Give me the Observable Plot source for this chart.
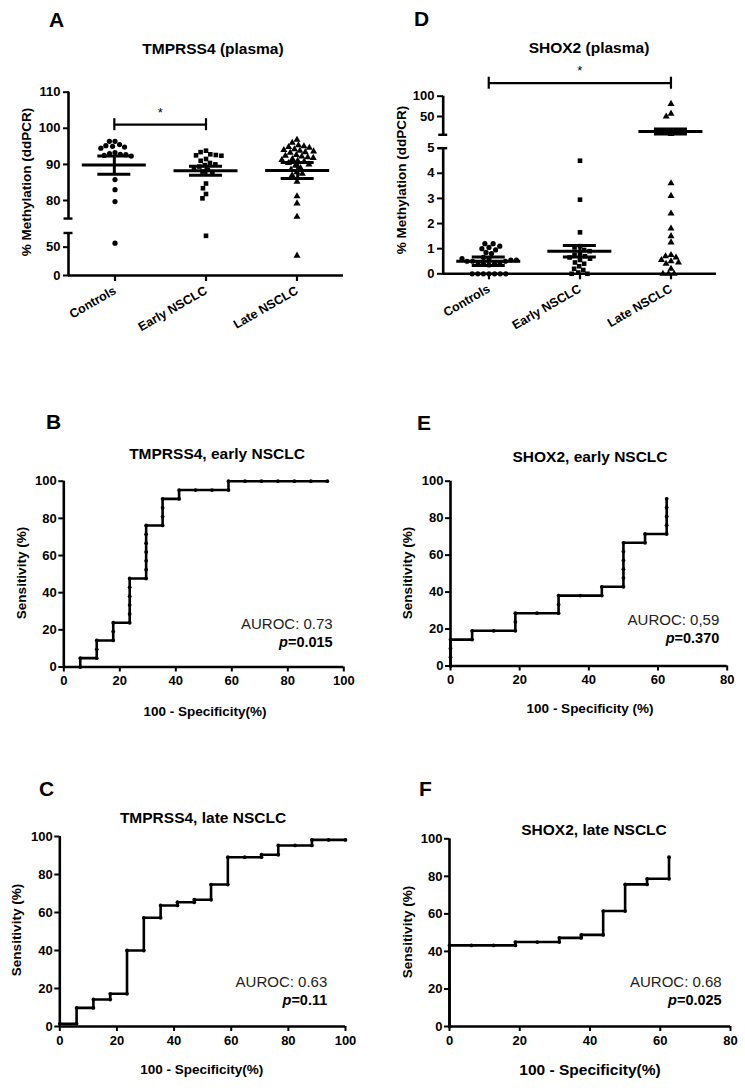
<!DOCTYPE html>
<html><head><meta charset="utf-8">
<script src="https://cdn.jsdelivr.net/npm/d3@7"></script>
<script src="https://cdn.jsdelivr.net/npm/@observablehq/plot@0.6"></script>
<style>
body{margin:0;background:#fff;}
#page{position:relative;width:745px;height:1088px;background:#fff;overflow:hidden;font-family:"Liberation Sans",Arial,sans-serif;color:#000;}
.t{position:absolute;white-space:nowrap;line-height:1;}
</style></head><body><div id="page"></div>
<script>
// ---------- DATA ----------
const categories = ["Controls", "Early NSCLC", "Late NSCLC"];
const symbols = ["circle", "square", "triangle"];

// Panel A: TMPRSS4 (plasma), % methylation
const tmprssControls = [96.4, 96.4, 95.5, 95.2, 95.0, 94.8, 94.5, 93.3, 93.0, 92.8, 92.7, 92.5, 92.3, 85.8, 83.0, 79.7, 57];
const tmprssEarly = [93.8, 93.4, 92.8, 92.6, 92.5, 92.4, 91.5, 91.0, 90.4, 90.0, 89.8, 89.4, 89.0, 88.5, 88.0, 87.6, 84.7, 83.4, 81.8, 80.6, 70];
const tmprssLate = [96.8, 96.0, 95.3, 95.0, 94.8, 94.6, 94.2, 94.0, 93.8, 93.6, 93.4, 93.2, 92.6, 92.4, 92.2, 92.0, 91.8, 91.5, 91.2, 91.0, 90.8, 90.4, 90.0, 89.6, 89.0, 88.6, 87.8, 87.4, 87.0, 85.2, 81.2, 79.2, 75.5, 35];
const tmprssMeans = [89.8, 88.25, 88.3];
const tmprssSem = [2.5, 1.25, 2.2];
const tmprssAxis = {min: 0, breakAt: 75, max: 110};
const tmprssTicks = [0, 50, 80, 90, 100, 110];
const tmprssBracket = {from: "Controls", to: "Early NSCLC", y: 101, text: "*"};

// Panel D: SHOX2 (plasma), % methylation
const shoxControls = [0, 0, 0, 0, 0, 0, 0, 0.35, 0.4, 0.4, 0.45, 0.45, 0.5, 0.5, 0.5, 0.55, 0.55, 0.6, 0.6, 0.65, 0.8, 0.85, 0.95, 1.0, 1.05, 1.1, 1.2, 1.2];
const shoxEarly = [4.5, 2.95, 1.65, 1.1, 1.05, 0.95, 0.9, 0.8, 0.75, 0.7, 0.65, 0.6, 0.55, 0.45, 0.4, 0.3, 0.2, 0.15, 0.05, 0, 0];
const shoxLate = [81, 57, 50, 7, 3.6, 3.1, 2.4, 1.8, 1.5, 1.25, 0.75, 0.7, 0.65, 0.55, 0.5, 0.45, 0.4, 0.2, 0, 0, 0];
const shoxMeans = [0.5, 0.9, 13];
const shoxSem = [0.17, 0.23, 6];
const shoxAxis = {min: 0, breakAt: 5, max: 100};
const shoxTicks = [0, 1, 2, 3, 4, 5, 50, 100];
const shoxBracket = {from: "Controls", to: "Late NSCLC", y: 132, text: "*"};

// ROC curves: [100 - specificity (%), sensitivity (%)]
const rocTmprssEarly = [[5.88,0],[5.88,4.76],[11.76,4.76],[11.76,9.52],[11.76,14.29],[17.65,14.29],[17.65,19.05],[17.65,23.81],[23.53,23.81],[23.53,28.57],[23.53,33.33],[23.53,38.1],[23.53,42.86],[23.53,47.62],[29.41,47.62],[29.41,52.38],[29.41,57.14],[29.41,61.9],[29.41,66.67],[29.41,71.43],[29.41,76.19],[35.29,76.19],[35.29,80.95],[35.29,85.71],[35.29,90.48],[41.18,90.48],[41.18,95.24],[47.06,95.24],[52.94,95.24],[58.82,95.24],[58.82,100],[64.71,100],[70.59,100],[76.47,100],[82.35,100],[88.24,100],[94.12,100]];
const rocTmprssLate = [[0,1.4],[5.88,1.4],[5.88,9.8],[11.76,9.8],[11.76,14.2],[17.65,14.2],[17.65,17.2],[23.53,17.2],[23.53,40.0],[29.41,40.0],[29.41,57.2],[35.29,57.2],[35.29,63.7],[41.18,63.7],[41.18,65.4],[47.06,65.4],[47.06,66.7],[52.94,66.7],[52.94,74.7],[58.82,74.7],[58.82,89.1],[64.71,89.1],[70.59,89.1],[70.59,90.4],[76.47,90.4],[76.47,95.3],[82.35,95.3],[88.24,95.3],[88.24,98.2],[94.12,98.2],[100,98.2]];
const rocShoxEarly = [[0,0],[0,4.76],[0,9.52],[0,14.29],[6.25,14.29],[6.25,19.05],[12.5,19.05],[18.75,19.05],[18.75,23.81],[18.75,28.57],[25,28.57],[31.25,28.57],[31.25,33.33],[31.25,38.1],[37.5,38.1],[43.75,38.1],[43.75,42.86],[50,42.86],[50,47.62],[50,52.38],[50,57.14],[50,61.9],[50,66.67],[56.25,66.67],[56.25,71.43],[62.5,71.43],[62.5,76.19],[62.5,80.95],[62.5,85.71],[62.5,90.48]];
const rocShoxLate = [[0,0],[0,43.2],[6.25,43.2],[12.5,43.2],[18.75,43.2],[18.75,45.0],[25,45.0],[31.25,45.0],[31.25,47.2],[37.5,47.2],[37.5,48.8],[43.75,48.8],[43.75,61.5],[50,61.5],[50,75.7],[56.25,75.7],[56.25,78.7],[62.5,78.7],[62.5,90.2]];
const rocYTicks = [0, 20, 40, 60, 80, 100];
const rocXTicks100 = [0, 20, 40, 60, 80, 100];
const rocXTicks80 = [0, 20, 40, 60, 80];

// ---------- RENDER ----------
const page = document.getElementById("page");
const FONT = "Liberation Sans, Arial, sans-serif";

function svgStyle(left, top) {
  return {position: "absolute", left: left + "px", top: top + "px", fontFamily: FONT, fontSize: "13px",
          fontWeight: "bold", color: "#000", background: "transparent", overflow: "visible"};
}

// broken (two-segment) value axis: lower segment scaled by kLow, upper by kHigh, gap between
function makeBreak({min, breakAt, max}, kLow, kHigh, gap) {
  const f = v => v <= breakAt ? (v - min) * kLow : (breakAt - min) * kLow + gap + (v - breakAt) * kHigh;
  return {f, lowTop: f(breakAt), highBottom: (breakAt - min) * kLow + gap, top: f(max)};
}

function scatterPanel({left, top, width, height, marginLeft, marginRight, yPixBottom, yPixTop, axis, kLow, kHigh, gap, yTicks, groups, means, sems, bracket}) {
  const B = makeBreak(axis, kLow, kHigh, gap);
  const f = B.f;
  const rows = categories.flatMap((c, i) => groups[i].map(v => ({cat: c, v})));
  const summary = categories.map((c, i) => ({x: i + 1, mean: means[i], sem: sems[i]}));
  const caps = summary.flatMap(d => [{x: d.x, y: d.mean - d.sem}, {x: d.x, y: d.mean + d.sem}]);
  const segs = [{y1: 0, y2: B.lowTop}, {y1: B.highBottom, y2: B.top}];
  const xi = c => categories.indexOf(c) + 1;
  const tickLabel = new Map(yTicks.map(t => [f(t), t]));
  const common = {width, height, marginLeft, marginRight, marginTop: yPixTop, marginBottom: height - yPixBottom};
  const yScale = {domain: [0, B.top], range: [yPixBottom, yPixTop], label: null};

  const p1 = Plot.plot({
    ...common,
    style: svgStyle(left, top),
    fx: {domain: categories, padding: 0, label: null},
    y: yScale,
    symbol: {domain: categories, range: symbols},
    marks: [
      Plot.axisY({ticks: yTicks.map(f), tickFormat: t => tickLabel.get(t), tickSize: 6, strokeWidth: 2, tickPadding: 3, label: null, fontSize: 13}),
      Plot.axisFx({anchor: "bottom", tickSize: 6, strokeWidth: 2.2, tickRotate: -30, tickPadding: 8, label: null, fontSize: 12.5}),
      Plot.dot(rows, Plot.dodgeX({anchor: "middle", padding: 0.4}, {fx: "cat", y: d => f(d.v), r: 2.6, fill: "black", stroke: "none", symbol: "cat"}))
    ]
  });
  const p2 = Plot.plot({
    ...common,
    style: svgStyle(left, top),
    x: {domain: [0.5, categories.length + 0.5], axis: null},
    y: {...yScale, axis: null},
    marks: [
      Plot.ruleX(segs, {x: () => 0.5, y1: "y1", y2: "y2", strokeWidth: 2.6}),
      Plot.ruleY([B.lowTop, B.highBottom], {y: d => d, x1: () => 0.5, x2: () => 0.5, insetLeft: -4.5, insetRight: -4.5, strokeWidth: 2.4}),
      Plot.ruleY([0], {strokeWidth: 2.6}),
      Plot.ruleY(summary, {x1: "x", x2: "x", y: d => f(d.mean), insetLeft: -32, insetRight: -32, strokeWidth: 3}),
      Plot.ruleX(summary, {x: "x", y1: d => f(d.mean - d.sem), y2: d => f(d.mean + d.sem), strokeWidth: 3}),
      Plot.ruleY(caps, {x1: "x", x2: "x", y: d => f(d.y), insetLeft: -16.5, insetRight: -16.5, strokeWidth: 3}),
      Plot.ruleY([bracket], {x1: d => xi(d.from), x2: d => xi(d.to), y: d => f(d.y), strokeWidth: 2.2}),
      Plot.ruleX([bracket.from, bracket.to], {x: d => xi(d), y1: () => f(bracket.y), y2: () => f(bracket.y), insetTop: -6, insetBottom: -6, strokeWidth: 2.2}),
      Plot.text([bracket], {x: d => (xi(d.from) + xi(d.to)) / 2, y: d => f(d.y), text: "text", dy: -12, fontSize: 13, fontWeight: "normal", fill: "black"})
    ]
  });
  page.appendChild(p1);
  page.appendChild(p2);
}

function rocPanel({left, top, width, height, marginLeft, marginRight, marginTop, marginBottom, xMax, xTicks, points}) {
  const p = Plot.plot({
    width, height, marginLeft, marginRight, marginTop, marginBottom,
    style: svgStyle(left, top),
    x: {domain: [0, xMax], label: null},
    y: {domain: [0, 100], label: null},
    marks: [
      Plot.axisX({ticks: xTicks, tickSize: 5, strokeWidth: 2, tickPadding: 4, label: null, fontSize: 13}),
      Plot.axisY({ticks: rocYTicks, tickSize: 5, strokeWidth: 2, tickPadding: 2, label: null, fontSize: 13}),
      Plot.ruleX([0], {strokeWidth: 2.6}),
      Plot.ruleY([0], {strokeWidth: 2.6}),
      Plot.line(points, {x: d => d[0], y: d => d[1], stroke: "black", strokeWidth: 2.6, strokeLinejoin: "miter"}),
      Plot.dot(points, {x: d => d[0], y: d => d[1], r: 1.9, fill: "black"})
    ]
  });
  page.appendChild(p);
}

scatterPanel({left: 0, top: 60, width: 370, height: 280, marginLeft: 68, marginRight: 27,
  yPixBottom: 215, yPixTop: 31.7, axis: tmprssAxis, kLow: 0.157, kHigh: 1, gap: 4, yTicks: tmprssTicks,
  groups: [tmprssControls, tmprssEarly, tmprssLate], means: tmprssMeans, sems: tmprssSem, bracket: tmprssBracket});
scatterPanel({left: 370, top: 60, width: 375, height: 280, marginLeft: 72.7, marginRight: 29,
  yPixBottom: 213.3, yPixTop: 35.7, axis: shoxAxis, kLow: 1, kHigh: 0.01616, gap: 0.533, yTicks: shoxTicks,
  groups: [shoxControls, shoxEarly, shoxLate], means: shoxMeans, sems: shoxSem, bracket: shoxBracket});

rocPanel({left: 0, top: 470, width: 370, height: 240, marginLeft: 63.3, marginRight: 26.7, marginTop: 10.7, marginBottom: 43.5, xMax: 100, xTicks: rocXTicks100, points: rocTmprssEarly});
rocPanel({left: 370, top: 470, width: 375, height: 240, marginLeft: 80, marginRight: 18.3, marginTop: 10.7, marginBottom: 44.5, xMax: 80, xTicks: rocXTicks80, points: rocShoxEarly});
rocPanel({left: 0, top: 825, width: 370, height: 240, marginLeft: 59.3, marginRight: 25, marginTop: 11, marginBottom: 39, xMax: 100, xTicks: rocXTicks100, points: rocTmprssLate});
rocPanel({left: 370, top: 825, width: 375, height: 240, marginLeft: 79, marginRight: 15, marginTop: 13.3, marginBottom: 39, xMax: 80, xTicks: rocXTicks80, points: rocShoxLate});

// ---------- TEXT ----------
function label(html, x, y, {anchor = "middle", size = 13, weight = "bold", rotate = 0, color = "#000"} = {}) {
  const d = document.createElement("div");
  d.className = "t";
  d.innerHTML = html;
  const tx = anchor === "middle" ? "-50%" : anchor === "end" ? "-100%" : "0";
  d.style.left = x + "px";
  d.style.top = y + "px";
  d.style.fontSize = size + "px";
  d.style.fontWeight = weight;
  d.style.color = color;
  d.style.transform = `translate(${tx},-50%)` + (rotate ? ` rotate(${rotate}deg)` : "");
  page.appendChild(d);
}
const L = {size: 21, anchor: "start"};
label("A", 49, 18.5, L); label("D", 414, 17.5, L);
label("B", 46, 420.5, L); label("E", 417, 421.5, L);
label("C", 39, 788, L); label("F", 419, 788, L);

const T = {size: 15.5};
label("TMPRSS4 (plasma)", 213, 48.5, T);
label("SHOX2 (plasma)", 589, 48, T);
label("TMPRSS4, early NSCLC", 217, 454, T);
label("SHOX2, early NSCLC", 590, 456.5, T);
label("TMPRSS4, late NSCLC", 203, 818, T);
label("SHOX2, late NSCLC", 594, 830, T);

const Y = {size: 13.5, rotate: -90};
label("% Methylation (ddPCR)", 27, 182, Y);
label("% Methylation (ddPCR)", 401.5, 180, Y);
label("Sensitivity (%)", 21.7, 573, Y);
label("Sensitivity (%)", 408.3, 573.3, Y);
label("Sensitivity (%)", 16.7, 930, Y);
label("Sensitivity (%)", 408.3, 931.7, Y);

label("100 - Specificity(%)", 205, 711.7, {size: 13.5});
label("100 - Specificity (%)", 590, 709.3, {size: 13.5});
label("100 - Specificity(%)", 201.7, 1070, {size: 13.5});
label("100 - Specificity(%)", 590, 1070, {size: 15.5});

const AU = {anchor: "end", size: 15, weight: "normal", color: "#222"};
const PV = {anchor: "end", size: 14.5, weight: "bold"};
label("AUROC: 0.73", 332.7, 622.7, AU); label("<i>p</i>=0.015", 332.7, 641.7, PV);
label("AUROC: 0,59", 719.3, 619.3, AU); label("<i>p</i>=0.370", 719.3, 638.3, PV);
label("AUROC: 0.63", 327.3, 980.7, AU); label("<i>p</i>=0.11", 327.3, 1000, PV);
label("AUROC: 0.68", 721.7, 980.7, AU); label("<i>p</i>=0.025", 721.7, 1000, PV);
</script></body></html>
